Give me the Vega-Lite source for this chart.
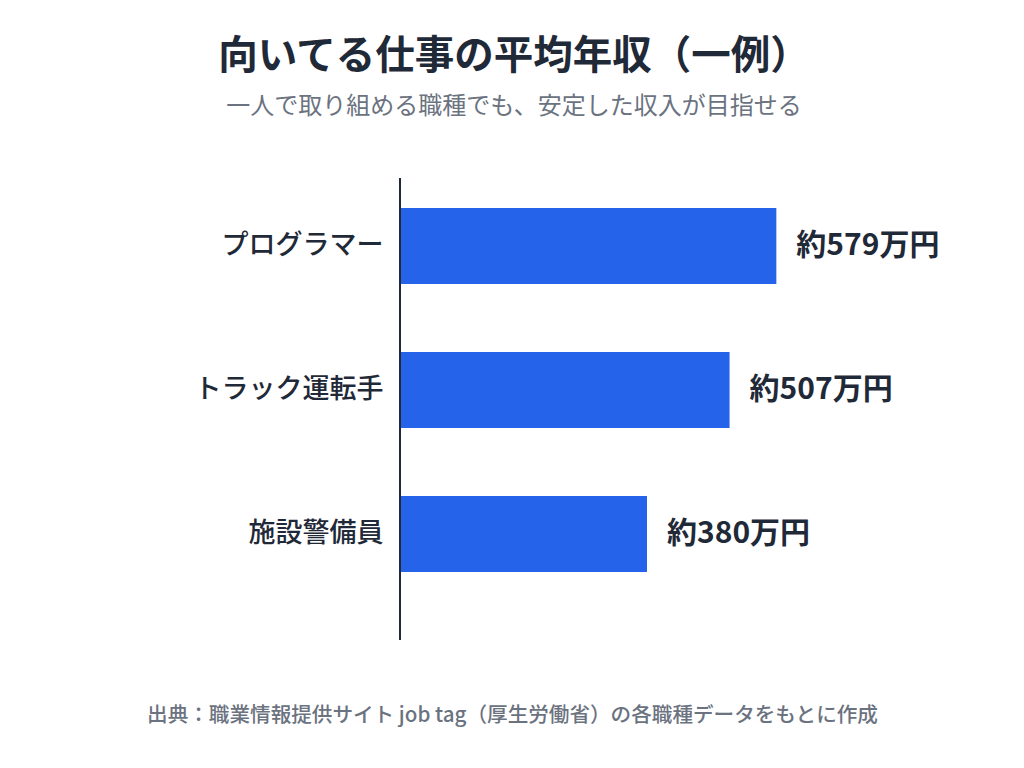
{
  "$schema": "https://vega.github.io/schema/vega-lite/v6.json",
  "autosize": {"type": "none"},
  "width": 520,
  "height": 462,
  "padding": {"left": 400, "top": 178, "right": 104, "bottom": 128},
  "background": "#ffffff",
  "config": {
    "font": "Noto Sans CJK JP",
    "view": {"stroke": null}
  },
  "title": {
    "text": "向いてる仕事の平均年収（一例）",
    "subtitle": "一人で取り組める職種でも、安定した収入が目指せる",
    "anchor": "middle",
    "dx": -146,
    "offset": 57,
    "fontSize": 39.5,
    "fontWeight": "bold",
    "color": "#1f2937",
    "subtitleFontSize": 24,
    "subtitleColor": "#6b7280",
    "subtitlePadding": 18,
    "font": "Noto Sans CJK JP",
    "subtitleFont": "Noto Sans CJK JP"
  },
  "data": {
    "values": [
      {"job": "プログラマー", "income": 579, "label": "約579万円"},
      {"job": "トラック運転手", "income": 507, "label": "約507万円"},
      {"job": "施設警備員", "income": 380, "label": "約380万円"}
    ]
  },
  "layer": [
    {
      "mark": {"type": "bar", "color": "#2563eb"},
      "encoding": {
        "y": {
          "field": "job",
          "type": "nominal",
          "sort": null,
          "scale": {"range": [-4, 428], "paddingInner": 0.4722, "paddingOuter": 0.2361},
          "axis": {
            "title": null,
            "domain": false,
            "ticks": false,
            "labelFontSize": 27,
            "labelFontWeight": 500,
            "labelColor": "#1f2937",
            "labelPadding": 17,
            "labelLimit": 400,
            "labelFont": "Noto Sans CJK JP"
          }
        },
        "x": {
          "field": "income",
          "type": "quantitative",
          "scale": {"domain": [0, 800]},
          "axis": {
            "title": "出典：職業情報提供サイト job tag（厚生労働省）の各職種データをもとに作成",
            "labels": false,
            "ticks": false,
            "domain": false,
            "grid": false,
            "titleX": 112,
            "titleY": 75,
            "titleAlign": "center",
            "titleBaseline": "middle",
            "titleFontSize": 20.6,
            "titleFontWeight": 500,
            "titleColor": "#6b7280",
            "titleLimit": 1000,
            "titleFont": "Noto Sans CJK JP"
          }
        }
      }
    },
    {
      "mark": {"type": "text", "align": "left", "baseline": "middle", "dx": 20, "fontSize": 30, "fontWeight": "bold", "color": "#1f2937"},
      "encoding": {
        "y": {"field": "job", "type": "nominal", "sort": null},
        "x": {"field": "income", "type": "quantitative"},
        "text": {"field": "label"}
      }
    },
    {
      "mark": {"type": "rule", "color": "#1f2937", "strokeWidth": 2},
      "encoding": {"x": {"datum": 0}}
    }
  ]
}
